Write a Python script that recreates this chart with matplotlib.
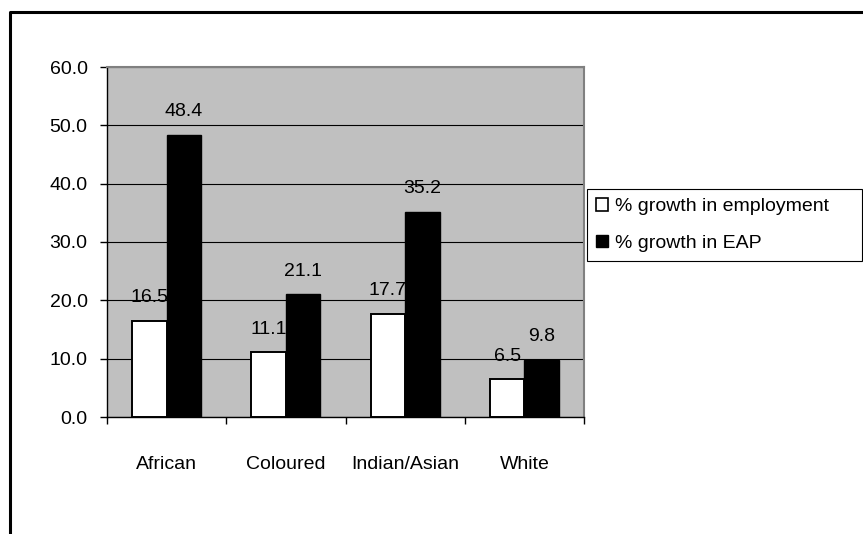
import numpy as np
import matplotlib.pyplot as plt
from matplotlib.patches import Patch
from matplotlib.lines import Line2D

plt.rcParams['font.family'] = ['Liberation Sans', 'DejaVu Sans']

groups = ['African', 'Coloured', 'Indian/Asian', 'White']
employment = [16.5, 11.1, 17.7, 6.5]
eap = [48.4, 21.1, 35.2, 9.8]
series_names = ['% growth in employment', '% growth in EAP']

FS = 14
W, H = 863, 534
fig = plt.figure(figsize=(W / 100, H / 100), dpi=100)
ax = fig.add_axes([107 / W, 1 - 417 / H, (584 - 107) / W, (417 - 67) / H])
ax.set_facecolor('#C0C0C0')

x = np.arange(len(groups))
bw = 0.29
ax.bar(x - bw / 2, employment, bw, color='white', edgecolor='black', linewidth=1.4, zorder=3)
ax.bar(x + bw / 2, eap, bw, color='black', edgecolor='black', linewidth=1.0, zorder=5)

# value labels sit above each bar; the black bars are drawn over them
for xi, v in zip(x - bw / 2, employment):
    ax.annotate(f'{v:.1f}', (xi, v), xytext=(0, 16.5), textcoords='offset points',
                ha='center', va='center', fontsize=FS, zorder=4)
for xi, v in zip(x + bw / 2, eap):
    ax.annotate(f'{v:.1f}', (xi, v), xytext=(0, 16.5), textcoords='offset points',
                ha='center', va='center', fontsize=FS, zorder=6)

ax.set_xlim(-0.5, len(groups) - 0.5)
ax.set_ylim(0, 60)
ax.set_yticks(np.arange(0, 61, 10))
ax.set_yticklabels([f'{t:.1f}' for t in np.arange(0, 61, 10)], fontsize=FS)
ax.yaxis.grid(True, color='black', linewidth=0.8, zorder=1)
ax.set_axisbelow(True)

ax.set_xticks(x)
ax.set_xticklabels(groups, fontsize=FS)
ax.set_xticks(np.arange(-0.5, len(groups)), minor=True)
ax.tick_params(axis='x', which='major', length=0, pad=28)
ax.tick_params(axis='x', which='minor', length=5, width=1, color='black', direction='out')
ax.tick_params(axis='y', length=5, width=1, color='black', direction='out', pad=9)

for side in ['top', 'right']:
    ax.spines[side].set_color('#808080')
    ax.spines[side].set_linewidth(1.5)
for side in ['left', 'bottom']:
    ax.spines[side].set_color('black')
    ax.spines[side].set_linewidth(1.0)

handles = [Patch(facecolor='white', edgecolor='black', linewidth=1.2),
           Patch(facecolor='black', edgecolor='black')]
leg = ax.legend(handles, series_names, loc='upper left', mode='expand',
                bbox_to_anchor=(587 / W, 1 - 263 / H, (862 - 587) / W, (263 - 189) / H),
                bbox_transform=fig.transFigure, fontsize=FS, frameon=True, fancybox=False,
                edgecolor='black', framealpha=1, borderpad=0.45, labelspacing=1.0,
                handlelength=0.65, handleheight=0.65, handletextpad=0.35, borderaxespad=0)
leg.get_frame().set_linewidth(0.8)

# outer chart frame (left and top edges visible)
fig.add_artist(Line2D([9.5 / W, 9.5 / W, 1.0], [0.0, 1 - 11.5 / H, 1 - 11.5 / H],
                      transform=fig.transFigure, color='black', linewidth=2.2))

fig.savefig('out.png', dpi=100)
